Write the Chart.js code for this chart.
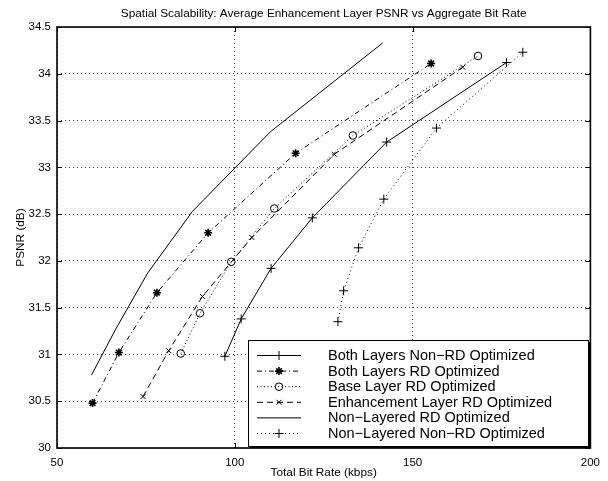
<!DOCTYPE html>
<html>
<head>
<meta charset="utf-8">
<script src="https://cdn.jsdelivr.net/npm/chart.js@4/dist/chart.umd.min.js"></script>
<style>
  html, body { margin: 0; padding: 0; background: #fff; }
  #wrap { width: 608px; height: 481px; }
</style>
</head>
<body>
<div id="wrap"><canvas id="canvas" width="608" height="481"></canvas></div>
<script>
// values
let chartTitle = 'Spatial Scalability: Average Enhancement Layer PSNR vs Aggregate Bit Rate';
let xTicks = [50, 100, 150, 200];
let yTicks = [30, 30.5, 31, 31.5, 32, 32.5, 33, 33.5, 34, 34.5];

let seriesNames = [
    'Both Layers Non\u2212RD Optimized',
    'Both Layers RD Optimized',
    'Base Layer RD Optimized',
    'Enhancement Layer RD Optimized',
    'Non\u2212Layered RD Optimized',
    'Non\u2212Layered Non\u2212RD Optimized'
];

let rateBothNonRD = [97.2, 101.8, 110.2, 121.8, 142.7, 176.4];
let psnrBothNonRD = [30.98, 31.38, 31.92, 32.46, 33.27, 34.12];

let rateBothRD = [60.0, 67.4, 78.1, 92.5, 117.1, 155.2];
let psnrBothRD = [30.48, 31.02, 31.66, 32.30, 33.15, 34.11];

let rateBaseRD = [84.8, 90.2, 99.0, 111.1, 133.2, 168.4];
let psnrBaseRD = [31.01, 31.44, 31.99, 32.56, 33.34, 34.19];

let rateEnhRD = [74.2, 81.4, 90.9, 104.8, 128.0, 164.1];
let psnrEnhRD = [30.55, 31.04, 31.62, 32.25, 33.14, 34.07];

let rateNonLayRD = [59.7, 66.5, 75.5, 88.1, 110.0, 141.6];
let psnrNonLayRD = [30.78, 31.27, 31.87, 32.53, 33.38, 34.33];

let rateNonLayNonRD = [129.0, 130.6, 134.8, 141.9, 156.7, 181.0];
let psnrNonLayNonRD = [31.35, 31.68, 32.14, 32.66, 33.42, 34.23];

function pairs(xs, ys) {
    let out = [];
    for (let i = 0; i < xs.length; i++) {
        out.push({ x: xs[i], y: ys[i] });
    }
    return out;
}

function series(label, xs, ys, dash, marker, size, width) {
    return {
        label: label,
        data: pairs(xs, ys),
        borderColor: '#000',
        backgroundColor: 'rgba(0,0,0,0)',
        borderWidth: 1,
        borderDash: dash,
        pointStyle: marker || false,
        pointRadius: marker ? size : 0,
        pointBorderColor: '#000',
        pointBackgroundColor: 'rgba(0,0,0,0)',
        pointBorderWidth: width || 1,
        tension: 0,
        fill: false
    };
}

const fontFam = '"Liberation Sans", Arial, Helvetica, sans-serif';

// box round the axes with inward ticks, like matlab
const axesBox = {
    id: 'axesBox',
    afterDraw(chart) {
        const { ctx, chartArea: a, scales } = chart;
        ctx.save();
        ctx.strokeStyle = '#000';
        ctx.lineWidth = 1;
        ctx.setLineDash([]);
        ctx.beginPath();
        xTicks.forEach(v => {
            let px = Math.round(scales.x.getPixelForValue(v)) + 0.5;
            ctx.moveTo(px, a.bottom); ctx.lineTo(px, a.bottom - 5);
            ctx.moveTo(px, a.top); ctx.lineTo(px, a.top + 5);
        });
        yTicks.forEach(v => {
            let py = Math.round(scales.y.getPixelForValue(v)) + 0.5;
            ctx.moveTo(a.left, py); ctx.lineTo(a.left + 5, py);
            ctx.moveTo(a.right, py); ctx.lineTo(a.right - 5, py);
        });
        ctx.stroke();
        ctx.lineWidth = 1.6;
        ctx.strokeRect(a.left, a.top, a.right - a.left, a.bottom - a.top);
        // title centred over the axes
        ctx.fillStyle = '#000';
        ctx.font = '11.8px ' + fontFam;
        ctx.textAlign = 'center';
        ctx.textBaseline = 'middle';
        ctx.fillText(chartTitle, (a.left + a.right) / 2, 14);
        ctx.restore();
    }
};

function marker(ctx, ds, x, y) {
    if (!ds.pointStyle) return;
    ctx.save();
    ctx.strokeStyle = '#000';
    ctx.fillStyle = 'rgba(0,0,0,0)';
    ctx.lineWidth = ds.pointBorderWidth;
    ctx.setLineDash([]);
    Chart.helpers.drawPoint(ctx, {
        pointStyle: ds.pointStyle,
        radius: ds.pointRadius,
        borderWidth: ds.pointBorderWidth,
        rotation: 0
    }, x, y);
    ctx.restore();
}

// legend box inside the plot, lower right
const boxLegend = {
    id: 'boxLegend',
    afterDraw(chart) {
        const ctx = chart.ctx;
        let x0 = 248, y0 = 340, w = 340, h = 106;
        ctx.save();
        ctx.fillStyle = '#fff';
        ctx.fillRect(x0, y0, w, h);
        ctx.strokeStyle = '#000';
        ctx.lineWidth = 1;
        ctx.strokeRect(x0 + 0.5, y0 + 0.5, w, h);
        ctx.beginPath();
        ctx.moveTo(x0 + w + 1.5, y0 + 2); ctx.lineTo(x0 + w + 1.5, y0 + h + 1.5); ctx.lineTo(x0 + 2, y0 + h + 1.5);
        ctx.stroke();
        ctx.font = '14.5px ' + fontFam;
        ctx.textBaseline = 'middle';
        ctx.textAlign = 'left';
        chart.data.datasets.forEach((ds, i) => {
            let yy = 355.5 + i * 15.6;
            ctx.beginPath();
            ctx.lineWidth = ds.borderWidth;
            ctx.setLineDash(ds.borderDash || []);
            ctx.moveTo(257, yy); ctx.lineTo(301, yy);
            ctx.stroke();
            ctx.setLineDash([]);
            marker(ctx, ds, 279, yy);
            ctx.fillStyle = '#000';
            ctx.fillText(ds.label, 328, yy + 0.5);
        });
        ctx.restore();
    }
};

let ctx = document.getElementById('canvas').getContext('2d');

let myChart = new Chart(ctx, {
    type: 'line',
    data: {
        datasets: [
            series(seriesNames[0], rateBothNonRD, psnrBothNonRD, [], 'cross', 4.5, 1),
            series(seriesNames[1], rateBothRD, psnrBothRD, [5, 3, 1, 3], 'star', 4, 1.6),
            series(seriesNames[2], rateBaseRD, psnrBaseRD, [1, 2.5], 'circle', 3.8, 1),
            series(seriesNames[3], rateEnhRD, psnrEnhRD, [6, 4], 'crossRot', 3.5, 1),
            series(seriesNames[4], rateNonLayRD, psnrNonLayRD, [], false, 0, 1),
            series(seriesNames[5], rateNonLayNonRD, psnrNonLayNonRD, [1, 3], 'cross', 4.5, 1)
        ]
    },
    options: {
        responsive: false,
        animation: false,
        devicePixelRatio: 1,
        layout: { padding: { left: 0, right: 15, top: 27, bottom: 0 } },
        plugins: {
            legend: { display: false },
            title: { display: false },
            tooltip: { enabled: false }
        },
        scales: {
            x: {
                type: 'linear',
                min: 50, max: 200,
                afterFit(s) { s.height = 33; },
                afterBuildTicks(s) { s.ticks = xTicks.map(v => ({ value: v })); },
                ticks: {
                    color: '#000',
                    padding: 8,
                    maxRotation: 0,
                    font: { family: fontFam, size: 11.5 },
                    callback: v => String(v)
                },
                grid: { color: 'rgba(0,0,0,0.75)', lineWidth: 1, drawTicks: false },
                border: { display: false, dash: [1, 3] },
                title: {
                    display: true,
                    text: 'Total Bit Rate (kbps)',
                    color: '#000',
                    font: { family: fontFam, size: 11.8 },
                    padding: { top: 0, bottom: 1 }
                }
            },
            y: {
                type: 'linear',
                min: 30, max: 34.5,
                afterFit(s) { s.width = 57; },
                afterBuildTicks(s) { s.ticks = yTicks.map(v => ({ value: v })); },
                ticks: {
                    color: '#000',
                    padding: 6,
                    font: { family: fontFam, size: 11.5 },
                    callback: v => String(v)
                },
                grid: { color: 'rgba(0,0,0,0.75)', lineWidth: 1, drawTicks: false },
                border: { display: false, dash: [1, 3] },
                title: {
                    display: true,
                    text: 'PSNR (dB)',
                    color: '#000',
                    font: { family: fontFam, size: 11.8 },
                    padding: { top: 14, bottom: 0 }
                }
            }
        }
    },
    plugins: [axesBox, boxLegend]
});
</script>
</body>
</html>
